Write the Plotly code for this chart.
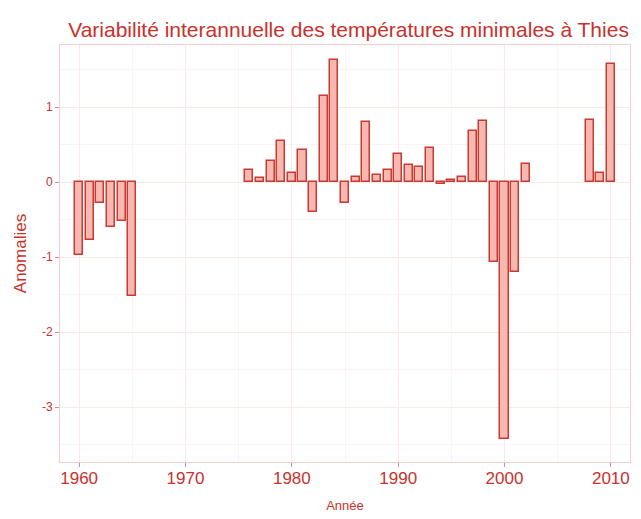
import plotly.graph_objects as go

# Anomalies de température minimale, Thies
annees = [1960, 1961, 1962, 1963, 1964, 1965,
          1976, 1977, 1978, 1979, 1980, 1981, 1982, 1983, 1984, 1985, 1986, 1987,
          1988, 1989, 1990, 1991, 1992, 1993, 1994, 1995, 1996, 1997, 1998, 1999,
          2000, 2001, 2002,
          2008, 2009, 2010]
anomalies = [-0.97, -0.77, -0.27, -0.59, -0.52, -1.52,
             0.16, 0.06, 0.29, 0.55, 0.13, 0.43, -0.40, 1.15, 1.63, -0.28, 0.07, 0.80,
             0.10, 0.17, 0.38, 0.23, 0.20, 0.46, -0.02, 0.03, 0.07, 0.69, 0.82, -1.06,
             -3.42, -1.20, 0.24,
             0.83, 0.13, 1.58]
x_ticks = [1960, 1970, 1980, 1990, 2000, 2010]
y_ticks = [1, 0, -1, -2, -3]
y_labels = ["1", "0", "-1", "-2", "-3"]

rouge = "#c8312c"
police = "Liberation Sans Narrow, Liberation Sans, Arial"

fig = go.Figure()
fig.add_trace(go.Bar(
    x=annees, y=anomalies, width=0.76,
    marker=dict(color="#f7b8b0", line=dict(color="#c93a34", width=1.5)),
    showlegend=False,
))

# la page ajoute une marge de 8 px autour du graphique
fig.update_layout(
    width=633, height=511,
    margin=dict(l=52, r=11, t=37, b=57),
    paper_bgcolor="white", plot_bgcolor="white",
    font=dict(family=police, color=rouge),
    title=dict(text="Variabilité interannuelle des températures minimales à Thies",
               x=0.538, xanchor="center", yref="container", y=0.957, yanchor="middle",
               font=dict(size=21, color=rouge, family=police)),
    bargap=0,
)
fig.update_xaxes(
    range=[1958.2, 2011.8], tickvals=x_ticks, automargin=False,
    ticks="outside", ticklen=4, tickcolor="#d88a86", ticklabelstandoff=-3,
    tickfont=dict(size=17, color=rouge),
    title=dict(text="Année", font=dict(size=13, color=rouge), standoff=13),
    showgrid=True, gridcolor="#fbe9e8", gridwidth=1,
    minor=dict(showgrid=True, gridcolor="#fdf3f3", dtick=5),
    zeroline=False, showline=True, linecolor="#f2cfcd", mirror=True,
)
fig.update_yaxes(
    range=[-3.73, 1.83], tickvals=y_ticks, ticktext=y_labels, automargin=False,
    ticks="outside", ticklen=4, tickcolor="#d88a86",
    tickfont=dict(size=12, color=rouge),
    title=dict(text="Anomalies", font=dict(size=17, color=rouge), standoff=10),
    showgrid=True, gridcolor="#fbe9e8", gridwidth=1,
    minor=dict(showgrid=True, gridcolor="#fdf3f3", dtick=0.5),
    zeroline=False, showline=True, linecolor="#f2cfcd", mirror=True,
)

fig.write_html("out.html")
